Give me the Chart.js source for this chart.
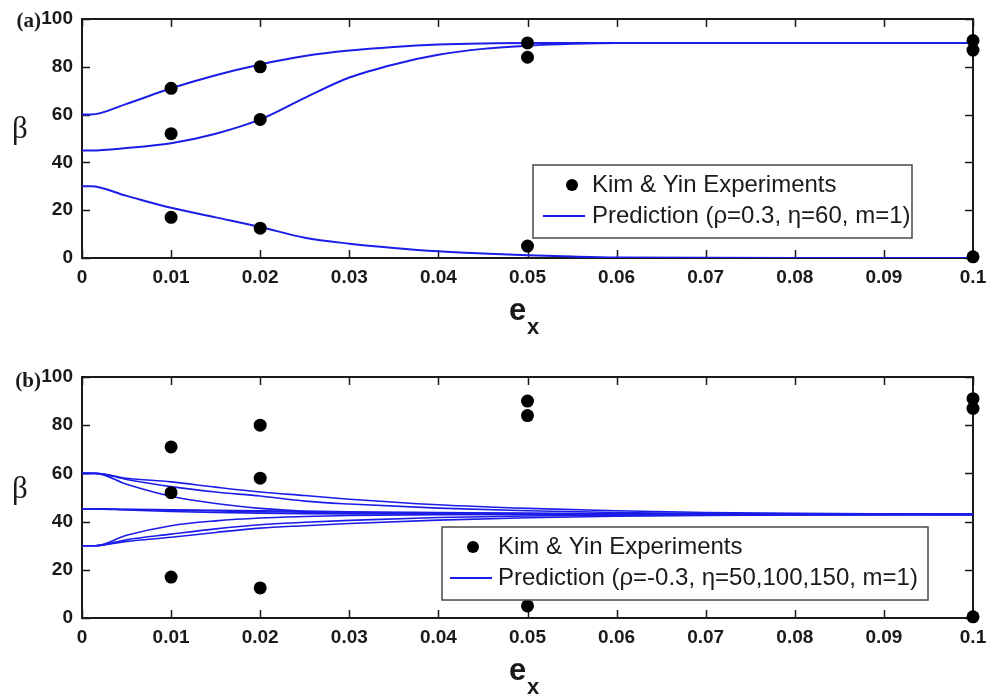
<!DOCTYPE html>
<html>
<head>
<meta charset="utf-8">
<script src="https://cdn.jsdelivr.net/npm/chart.js@4.4.0/dist/chart.umd.min.js"></script>
<style>
  body { margin: 0; background: #fff; }
  canvas { display: block; }
</style>
</head>
<body>
<canvas id="panel_a" width="988" height="360"></canvas>
<canvas id="panel_b" width="988" height="335"></canvas>
<script>
var xTickValues = [0, 0.01, 0.02, 0.03, 0.04, 0.05, 0.06, 0.07, 0.08, 0.09, 0.1];
var xTickLabels = ['0', '0.01', '0.02', '0.03', '0.04', '0.05', '0.06', '0.07', '0.08', '0.09', '0.1'];
var yTickValues = [0, 20, 40, 60, 80, 100];
var yTickLabels = ['0', '20', '40', '60', '80', '100'];

// Kim & Yin measurements, shown in both panels
var expE = [0.01, 0.01, 0.01, 0.02, 0.02, 0.02, 0.05, 0.05, 0.05, 0.1, 0.1, 0.1];
var expBeta = [71, 52, 17, 80, 58, 12.5, 90, 84, 5, 91, 87, 0.5];

// panel (a): rho=0.3, eta=60, m=1
var eA = [0, 0.001, 0.005, 0.01, 0.015, 0.02, 0.025, 0.03, 0.035, 0.04, 0.045, 0.05, 0.055, 0.06, 0.08, 0.1];
var betaA60 = [60, 60, 64.5, 71, 76.5, 81, 84.5, 86.8, 88.3, 89.3, 89.8, 90, 90, 90, 90, 90];
var betaA45 = [45, 45, 46, 48, 52, 58, 67, 75.5, 81, 85, 87.5, 88.8, 89.6, 90, 90, 90];
var betaA30 = [30, 30, 26, 21, 17, 13, 8.5, 6, 4.2, 2.8, 1.9, 1.2, 0.6, 0.2, 0, 0];

// panel (b): rho=-0.3, eta=50,100,150, m=1
var eB = [0, 0.0015, 0.005, 0.01, 0.015, 0.02, 0.025, 0.03, 0.04, 0.05, 0.06, 0.07, 0.08, 0.1];
var betaB60slow = [60, 60, 58, 56.5, 54.3, 52.3, 50.8, 49.3, 47, 45.5, 44.5, 43.8, 43.4, 43];
var betaB60mid = [60, 60, 57.5, 54.5, 52.3, 50.6, 48.5, 47.3, 45.6, 44.5, 43.8, 43.3, 43.1, 43];
var betaB60fast = [60, 60, 55.5, 50.5, 47.5, 45.5, 44.3, 43.8, 43.3, 43.1, 43, 43, 43, 43];
var betaB45slow = [45.3, 45.3, 45.1, 44.9, 44.7, 44.5, 44.3, 44.1, 43.8, 43.5, 43.3, 43.1, 43, 43];
var betaB45mid = [45.3, 45.3, 45, 44.7, 44.4, 44.1, 43.9, 43.7, 43.4, 43.2, 43.1, 43, 43, 43];
var betaB45fast = [45.3, 45.3, 44.8, 44.2, 43.8, 43.5, 43.3, 43.2, 43.1, 43, 43, 43, 43, 43];
var betaB30slow = [30, 30, 31.8, 33.5, 35.5, 37.3, 38.3, 39.2, 40.6, 41.6, 42.2, 42.6, 42.8, 43];
var betaB30mid = [30, 30, 32.5, 34.8, 37, 38.7, 39.7, 40.5, 41.7, 42.3, 42.7, 42.9, 43, 43];
var betaB30fast = [30, 30, 34.3, 38.3, 40.3, 41.5, 42.1, 42.5, 42.9, 43, 43, 43, 43, 43];

var legendA = ['Kim & Yin Experiments', 'Prediction (\u03c1=0.3, \u03b7=60, m=1)'];
var legendB = ['Kim & Yin Experiments', 'Prediction (\u03c1=-0.3, \u03b7=50,100,150, m=1)'];

var BLUE = '#1c1ce8';
var INK = '#1a1a1a';
var SANS = '"Liberation Sans", Arial, sans-serif';
var SERIF = '"Liberation Serif", "Times New Roman", serif';

function toPoints(xs, ys) {
    return xs.map(function (x, i) { return { x: x, y: ys[i] }; });
}

function expDataset() {
    return {
        label: 'Kim & Yin Experiments',
        data: toPoints(expE, expBeta),
        showLine: false,
        pointRadius: 6.5,
        pointHoverRadius: 6.5,
        pointBackgroundColor: '#000',
        pointBorderWidth: 0,
        clip: false,
        order: 0
    };
}

function curveDataset(xs, ys, width) {
    return {
        label: 'Prediction',
        data: toPoints(xs, ys),
        showLine: true,
        borderColor: BLUE,
        borderWidth: width,
        pointRadius: 0,
        cubicInterpolationMode: 'monotone',
        order: 1
    };
}

// closed box with inward ticks on every side
var frameAxes = {
    id: 'frameAxes',
    beforeDatasetsDraw: function (chart) {
        var a = chart.chartArea, ctx = chart.ctx;
        var sx = chart.scales.x, sy = chart.scales.y;
        var len = 8;
        ctx.save();
        ctx.strokeStyle = INK;
        ctx.lineWidth = 1.5;
        ctx.beginPath();
        sx.ticks.forEach(function (t) {
            var px = Math.round(sx.getPixelForValue(t.value)) + 0.5;
            ctx.moveTo(px, a.bottom); ctx.lineTo(px, a.bottom - len);
            ctx.moveTo(px, a.top); ctx.lineTo(px, a.top + len);
        });
        sy.ticks.forEach(function (t) {
            var py = Math.round(sy.getPixelForValue(t.value)) + 0.5;
            ctx.moveTo(a.left, py); ctx.lineTo(a.left + len, py);
            ctx.moveTo(a.right, py); ctx.lineTo(a.right - len, py);
        });
        ctx.stroke();
        ctx.lineWidth = 2;
        ctx.strokeRect(a.left, a.top, a.right - a.left, a.bottom - a.top);
        ctx.restore();
    }
};

var boxLegend = {
    id: 'boxLegend',
    afterDatasetsDraw: function (chart, args, o) {
        if (!o.labels) {
            return;
        }
        var ctx = chart.ctx;
        ctx.save();
        ctx.fillStyle = '#fff';
        ctx.fillRect(o.left, o.top, o.width, o.height);
        ctx.strokeStyle = '#4a4a4a';
        ctx.lineWidth = 1.5;
        ctx.strokeRect(o.left, o.top, o.width, o.height);

        ctx.fillStyle = '#000';
        ctx.beginPath();
        ctx.arc(o.markerX, o.row1, 6, 0, Math.PI * 2);
        ctx.fill();

        ctx.strokeStyle = BLUE;
        ctx.lineWidth = 2;
        ctx.beginPath();
        ctx.moveTo(o.lineFrom, o.row2);
        ctx.lineTo(o.lineTo, o.row2);
        ctx.stroke();

        ctx.fillStyle = INK;
        ctx.font = '24px ' + SANS;
        ctx.textBaseline = 'middle';
        ctx.textAlign = 'left';
        ctx.fillText(o.labels[0], o.textX, o.row1);
        ctx.fillText(o.labels[1], o.textX, o.row2);
        ctx.restore();
    }
};

// panel tag, beta and e_x axis titles
var axisTitles = {
    id: 'axisTitles',
    afterDraw: function (chart, args, o) {
        var ctx = chart.ctx;
        ctx.save();
        ctx.fillStyle = INK;
        ctx.textBaseline = 'alphabetic';

        ctx.textAlign = 'right';
        ctx.font = 'bold 21px ' + SERIF;
        ctx.fillText(o.tag, 41, 27);

        ctx.textAlign = 'center';
        ctx.font = '31px ' + SERIF;
        ctx.fillText('\u03b2', 20, 138);

        ctx.textAlign = 'left';
        ctx.font = 'bold 31px ' + SANS;
        ctx.fillText('e', 509, 320);
        ctx.font = 'bold 22px ' + SANS;
        ctx.fillText('x', 527, 334);
        ctx.restore();
    }
};

function drawPanel(id, datasets, tag, legendOpts, padTop, xAxisHeight) {
    var element = document.getElementById(id);
    if (!element) {
        return;
    }

    var config = {
        type: 'scatter',
        data: { datasets: datasets },
        options: {
            responsive: false,
            animation: false,
            devicePixelRatio: 1,
            layout: {
                padding: { top: padTop, right: 15, left: 0, bottom: 0 }
            },
            plugins: {
                legend: { display: false },
                tooltip: { enabled: false },
                boxLegend: legendOpts,
                axisTitles: { tag: tag }
            },
            scales: {
                x: {
                    type: 'linear',
                    min: 0,
                    max: 0.1,
                    afterBuildTicks: function (scale) {
                        scale.ticks = xTickValues.map(function (v) { return { value: v }; });
                    },
                    afterFit: function (scale) {
                        scale.height = xAxisHeight;
                        scale.paddingLeft = 0;
                        scale.paddingRight = 0;
                    },
                    grid: { display: false, drawTicks: false },
                    border: { display: false },
                    ticks: {
                        padding: 8,
                        maxRotation: 0,
                        autoSkip: false,
                        color: INK,
                        font: { family: SANS, size: 19, weight: 'bold' },
                        callback: function (v, i) { return xTickLabels[i]; }
                    }
                },
                y: {
                    type: 'linear',
                    min: 0,
                    max: 100,
                    afterBuildTicks: function (scale) {
                        scale.ticks = yTickValues.map(function (v) { return { value: v }; });
                    },
                    afterFit: function (scale) {
                        scale.width = 82;
                        scale.paddingTop = 0;
                        scale.paddingBottom = 0;
                    },
                    grid: { display: false, drawTicks: false },
                    border: { display: false },
                    ticks: {
                        padding: 9,
                        autoSkip: false,
                        color: INK,
                        font: { family: SANS, size: 19, weight: 'bold' },
                        callback: function (v, i) { return yTickLabels[i]; }
                    }
                }
            }
        },
        plugins: [frameAxes, boxLegend, axisTitles]
    };

    new Chart(element, config);
}

drawPanel('panel_a', [
    expDataset(),
    curveDataset(eA, betaA60, 2),
    curveDataset(eA, betaA45, 2),
    curveDataset(eA, betaA30, 2)
], '(a)', {
    labels: legendA,
    left: 533, top: 165, width: 379, height: 73,
    markerX: 572, lineFrom: 543, lineTo: 585, textX: 592,
    row1: 185, row2: 216
}, 19, 102);

drawPanel('panel_b', [
    expDataset(),
    curveDataset(eB, betaB60slow, 1.6),
    curveDataset(eB, betaB60mid, 1.6),
    curveDataset(eB, betaB60fast, 1.6),
    curveDataset(eB, betaB45slow, 1.6),
    curveDataset(eB, betaB45mid, 1.6),
    curveDataset(eB, betaB45fast, 1.6),
    curveDataset(eB, betaB30slow, 1.6),
    curveDataset(eB, betaB30mid, 1.6),
    curveDataset(eB, betaB30fast, 1.6)
], '(b)', {
    labels: legendB,
    left: 442, top: 167, width: 486, height: 73,
    markerX: 473, lineFrom: 450, lineTo: 492, textX: 498,
    row1: 187, row2: 218
}, 17, 77);
</script>
</body>
</html>
